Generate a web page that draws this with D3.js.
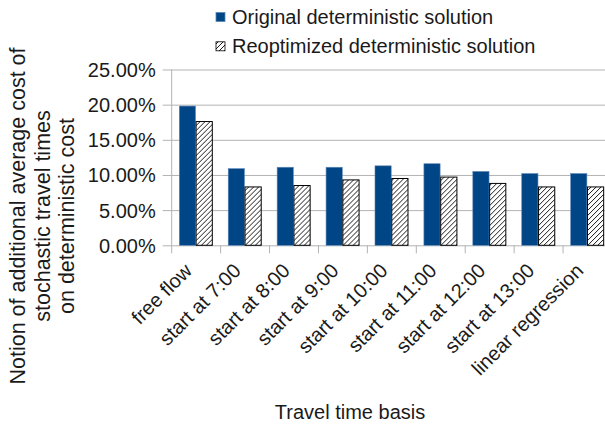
<!DOCTYPE html>
<html>
<head>
<meta charset="utf-8">
<script src="https://cdn.jsdelivr.net/npm/d3@7"></script>
<style>
  html, body { margin: 0; padding: 0; background: #fff; }
  svg { display: block; font-family: "Liberation Sans", Arial, sans-serif; }
</style>
</head>
<body>
<svg id="chart" width="605" height="424"></svg>
<script>
// Travel time bases on the x axis
const categories = ["free flow", "start at 7:00", "start at 8:00", "start at 9:00",
  "start at 10:00", "start at 11:00", "start at 12:00", "start at 13:00", "linear regression"];
const seriesNames = ["Original deterministic solution", "Reoptimized deterministic solution"];
// Additional average cost (fraction of deterministic cost)
const originalValues =    [0.198, 0.109, 0.111, 0.111, 0.113, 0.116, 0.105, 0.102, 0.102];
const reoptimizedValues = [0.176, 0.083, 0.085, 0.093, 0.095, 0.097, 0.088, 0.083, 0.083];
const yTicks = [0, 0.05, 0.10, 0.15, 0.20, 0.25];

const svg = d3.select("#chart");
const blue = "#004586";
const grid = "#b3b3b3";
const textColor = "#1a1a1a";

// hatch pattern for the reoptimized series
const defs = svg.append("defs");
const pat = defs.append("pattern")
  .attr("id", "hatch").attr("patternUnits", "userSpaceOnUse")
  .attr("width", 5).attr("height", 5);
pat.append("rect").attr("width", 5).attr("height", 5).attr("fill", "#fff");
pat.append("path").attr("d", "M0,5 L5,0 M-1,1 L1,-1 M4,6 L6,4")
  .attr("stroke", "#000").attr("stroke-width", 0.9);

const plotLeft = 171.7, plotRight = 612, plotTop = 69.5, plotBottom = 245.3;
const x = d3.scaleBand().domain(categories).range([plotLeft, plotRight]).padding(0);
const x1 = d3.scaleBand().domain(seriesNames).range([7.6, 41.2]).padding(0);
const y = d3.scaleLinear().domain([0, 0.25]).range([plotBottom, plotTop]);

// horizontal gridlines plus left tick marks
const yAxis = d3.axisLeft(y).tickValues(yTicks).tickSize(0)
  .tickFormat(d => d3.format(".2f")(d * 100) + "%");
const gy = svg.append("g").attr("transform", `translate(${plotLeft},0)`).call(yAxis);
gy.select(".domain").remove();
gy.selectAll(".tick line").remove();
gy.selectAll(".tick").append("line")
  .attr("x1", -9).attr("x2", plotRight - plotLeft)
  .attr("stroke", grid).attr("stroke-width", 1);
gy.selectAll(".tick text")
  .attr("x", -16).attr("dy", "0.35em")
  .attr("font-size", 20).attr("fill", textColor)
  .attr("font-family", "Liberation Sans, Arial, sans-serif");

// vertical axis line
svg.append("line")
  .attr("x1", plotLeft).attr("x2", plotLeft).attr("y1", plotTop).attr("y2", plotBottom + 8)
  .attr("stroke", grid).attr("stroke-width", 1);

// x category boundary ticks
svg.append("g").selectAll("line")
  .data(categories.slice(1))
  .join("line")
  .attr("x1", d => x(d)).attr("x2", d => x(d))
  .attr("y1", plotBottom).attr("y2", plotBottom + 8)
  .attr("stroke", grid).attr("stroke-width", 1);

// bars
const rows = categories.map((c, i) => ({ cat: c, values: [originalValues[i], reoptimizedValues[i]] }));
const groups = svg.append("g").selectAll("g")
  .data(rows).join("g")
  .attr("transform", d => `translate(${x(d.cat)},0)`);
groups.selectAll("rect")
  .data(d => d.values.map((v, k) => ({ v, s: seriesNames[k], k })))
  .join("rect")
  .attr("x", d => x1(d.s))
  .attr("y", d => y(d.v))
  .attr("width", x1.bandwidth() - 0.6)
  .attr("height", d => y(0) - y(d.v))
  .attr("fill", d => d.k === 0 ? blue : "url(#hatch)")
  .attr("stroke", d => d.k === 0 ? "#5d87b8" : "#000")
  .attr("stroke-width", d => d.k === 0 ? 0.6 : 1);

// rotated category labels
svg.append("g").selectAll("text")
  .data(categories).join("text")
  .attr("transform", d => `translate(${x(d) + x.bandwidth() / 2 - 3},272) rotate(-45)`)
  .attr("text-anchor", "end")
  .attr("font-size", 20).attr("fill", textColor)
  .text(d => d);

// axis titles
svg.append("text")
  .attr("x", 350).attr("y", 419)
  .attr("text-anchor", "middle").attr("font-size", 20).attr("fill", textColor)
  .text("Travel time basis");

const yTitle = ["Notion of additional average cost of", "stochastic travel times", "on deterministic cost"];
svg.append("g").attr("transform", "translate(0,216) rotate(-90)")
  .selectAll("text").data(yTitle).join("text")
  .attr("x", 0).attr("y", (d, i) => 25 + i * 24.5)
  .attr("text-anchor", "middle").attr("font-size", 21.5).attr("fill", textColor)
  .text(d => d);

// legend
const legend = svg.append("g");
seriesNames.forEach((name, k) => {
  const ly = 12.5 + k * 29.3;
  legend.append("rect")
    .attr("x", 216).attr("y", ly).attr("width", 9).attr("height", 9)
    .attr("fill", k === 0 ? blue : "url(#hatch)")
    .attr("stroke", k === 0 ? "#5d87b8" : "#000").attr("stroke-width", 0.8);
  legend.append("text")
    .attr("x", 232).attr("y", ly + 11)
    .attr("font-size", 20).attr("fill", textColor)
    .text(name);
});
</script>
</body>
</html>
